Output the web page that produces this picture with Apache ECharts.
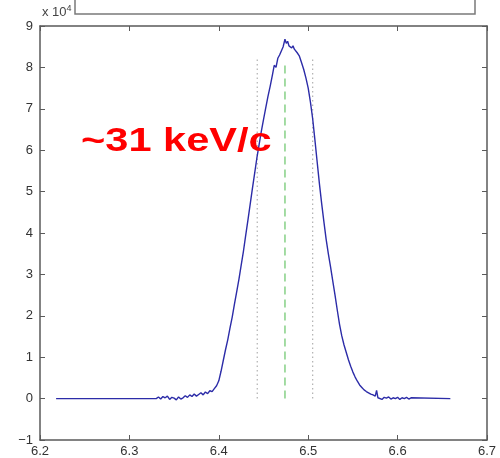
<!DOCTYPE html>
<html>
<head>
<meta charset="utf-8">
<script src="https://cdn.jsdelivr.net/npm/echarts@6/dist/echarts.min.js"></script>
<style>html,body{margin:0;padding:0;background:#fff;}#c{width:500px;height:458px;}</style>
</head>
<body>
<div id="c"></div>
<script>
// momentum (x) and counts (in units of 1e4)
var energy = [6.218, 6.3300, 6.3325, 6.3350, 6.3375, 6.3400, 6.3425, 6.3450, 6.3475, 6.3500, 6.3525, 6.3550, 6.3575, 6.3600, 6.3625, 6.3650, 6.3675, 6.3700, 6.3725, 6.3750, 6.3775, 6.3800, 6.3825, 6.3850, 6.3875, 6.3900, 6.3925, 6.3950,
  6.3975, 6.4000, 6.4025, 6.4050, 6.4075, 6.4100, 6.4125, 6.4150, 6.4175, 6.4200, 6.4225, 6.4250, 6.4275, 6.4300, 6.4325, 6.4350, 6.4375, 6.4400, 6.4425, 6.4450, 6.4475, 6.4500, 6.4525, 6.4550, 6.4575, 6.4600, 6.4620, 6.4640, 6.4660, 6.4680, 6.4700, 6.4720, 6.4740,
  6.4755, 6.4770, 6.4785, 6.4800, 6.4815, 6.4830, 6.4845, 6.4860, 6.4875, 6.4900, 6.4925, 6.4950, 6.4975, 6.5000, 6.5025, 6.5050, 6.5075, 6.5100, 6.5125, 6.5150, 6.5175, 6.5200, 6.5225, 6.5250, 6.5275, 6.5300, 6.5325, 6.5350, 6.5375, 6.5400, 6.5425, 6.5450, 6.5475, 6.5500, 6.5525, 6.5550, 6.5575, 6.5600, 6.5625, 6.5650, 6.5675, 6.5700, 6.5725, 6.5750,
  6.5765, 6.5780, 6.5800, 6.5825, 6.5850, 6.5875, 6.5900, 6.5925, 6.5950, 6.5975, 6.6000, 6.6025, 6.6050, 6.6075, 6.6100, 6.6125, 6.6150, 6.6155, 6.659];
var counts = [0, 0.00, 0.04, -0.01, 0.05, 0.02, 0.06, -0.02, 0.03, 0.01, -0.03, 0.04, -0.01, 0.02, 0.07, 0.03, 0.09, 0.05, 0.11, 0.06, 0.10, 0.14, 0.09, 0.16, 0.12, 0.19, 0.17, 0.24,
  0.31, 0.43, 0.66, 0.92, 1.18, 1.42, 1.70, 1.97, 2.28, 2.58, 2.88, 3.22, 3.55, 3.93, 4.30, 4.68, 5.06, 5.43, 5.80, 6.12, 6.45, 6.74, 7.02, 7.30, 7.55, 7.82, 8.05, 8.00, 8.22, 8.30, 8.28, 8.50, 8.68,
  8.58, 8.63, 8.52, 8.56, 8.47, 8.52, 8.44, 8.46, 8.36, 8.28, 8.12, 7.95, 7.74, 7.50, 7.16, 6.76, 6.25, 5.72, 5.20, 4.72, 4.28, 3.86, 3.50, 3.18, 2.84, 2.50, 2.14, 1.80, 1.52, 1.30, 1.12, 0.94, 0.78, 0.64, 0.52, 0.42, 0.33, 0.27, 0.21, 0.17, 0.14, 0.11, 0.09, 0.06,
  0.20, 0.02, 0.05, -0.02, 0.03, 0.01, 0.04, -0.01, 0.02, 0.00, 0.03, -0.02, 0.02, 0.00, 0.03, -0.01, 0.02, 0.00, 0];
// vertical reference lines
var markerX = [6.443, 6.474, 6.505];
var markerTop = [8.2, 8.05, 8.2];
var xTicks = [6.2, 6.3, 6.4, 6.5, 6.6, 6.7];
var yTicks = [-1, 0, 1, 2, 3, 4, 5, 6, 7, 8, 9];

var curve = energy.map(function (e, i) { return [e, counts[i]]; });
function vline(i) { return [[markerX[i], 0], [markerX[i], markerTop[i]]]; }

var axisColor = '#5a5a5a';
var labelStyle = { color: '#333', fontSize: 13, fontFamily: 'Liberation Sans, Arial, sans-serif' };

var chart = echarts.init(document.getElementById('c'), null, { renderer: 'canvas' });
chart.setOption({
  animation: false,
  grid: { left: 40, right: 13, top: 26, bottom: 18, show: false },
  xAxis: [{
    type: 'value', min: xTicks[0], max: xTicks[xTicks.length - 1], interval: 0.1,
    axisLine: { show: true, onZero: false, lineStyle: { color: axisColor, width: 1.5 } },
    axisTick: { show: true, inside: true, length: 5, lineStyle: { color: axisColor } },
    splitLine: { show: false },
    axisLabel: Object.assign({ margin: 5, formatter: function (v) { return v.toFixed(1); } }, labelStyle)
  }, {
    type: 'value', position: 'top', min: xTicks[0], max: xTicks[xTicks.length - 1], interval: 0.1,
    axisLine: { show: true, onZero: false, lineStyle: { color: axisColor, width: 1.5 } },
    axisTick: { show: true, inside: true, length: 5, lineStyle: { color: axisColor } },
    splitLine: { show: false }, axisLabel: { show: false }
  }],
  yAxis: [{
    type: 'value', min: yTicks[0], max: yTicks[yTicks.length - 1], interval: 1,
    axisLine: { show: true, onZero: false, lineStyle: { color: axisColor, width: 1.5 } },
    axisTick: { show: true, inside: true, length: 5, lineStyle: { color: axisColor } },
    splitLine: { show: false },
    axisLabel: Object.assign({ margin: 7, formatter: function (v) { return v < 0 ? '\u2212' + Math.abs(v) : String(v); } }, labelStyle)
  }, {
    type: 'value', position: 'right', min: yTicks[0], max: yTicks[yTicks.length - 1], interval: 1,
    axisLine: { show: true, onZero: false, lineStyle: { color: axisColor, width: 1.5 } },
    axisTick: { show: true, inside: true, length: 5, lineStyle: { color: axisColor } },
    splitLine: { show: false }, axisLabel: { show: false }
  }],
  series: [
    { type: 'line', data: vline(0), showSymbol: false, silent: true, lineStyle: { color: '#b0b0b0', width: 1.2, type: [1.5, 3] }, z: 1 },
    { type: 'line', data: vline(1), showSymbol: false, silent: true, lineStyle: { color: '#9ad89a', width: 1.8, type: [8, 5] }, z: 1 },
    { type: 'line', data: vline(2), showSymbol: false, silent: true, lineStyle: { color: '#b0b0b0', width: 1.2, type: [1.5, 3] }, z: 1 },
    { type: 'line', data: curve, showSymbol: false, silent: true, lineStyle: { color: '#2c2ca8', width: 1.4 }, z: 3 }
  ],
  graphic: [
    { type: 'rect', shape: { x: 75, y: -10, width: 400, height: 24 }, style: { fill: '#fff', stroke: '#7a7a7a', lineWidth: 1.5 }, z: 10 },
    { type: 'text', x: 42, y: 21, style: { text: 'x 10{s|4}', fill: '#444', fontSize: 13, fontFamily: 'Liberation Sans, Arial, sans-serif', textVerticalAlign: 'bottom',
        rich: { s: { fontSize: 9, fill: '#444', padding: [0, 0, 8, 0] } } }, z: 10 },
    { type: 'text', x: 81, y: 142, scaleX: 1.26, style: { text: '~31 keV/c', fill: '#ff0000', fontSize: 33, fontWeight: 'bold', fontFamily: 'Liberation Sans, Arial, sans-serif', textAlign: 'left', textVerticalAlign: 'middle' }, z: 10 }
  ]
});
</script>
</body>
</html>
